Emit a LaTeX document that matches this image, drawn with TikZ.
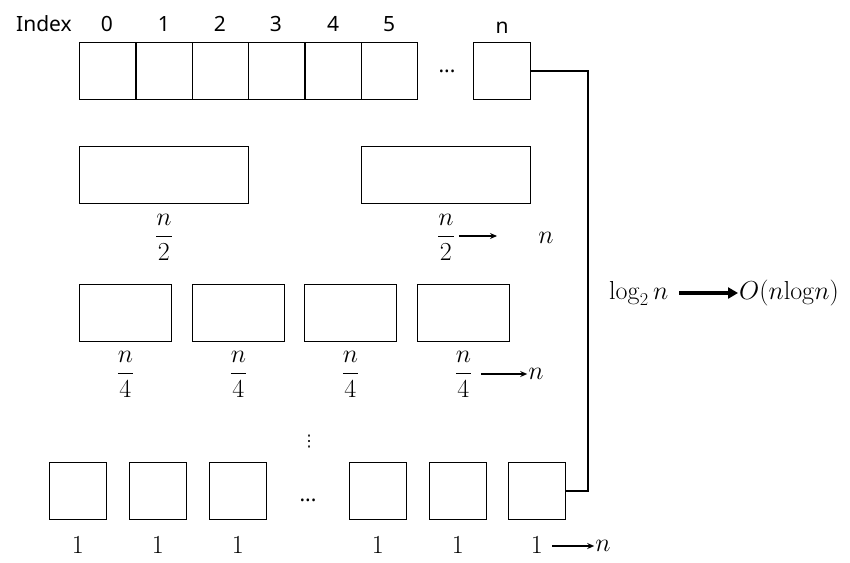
\RequirePackage{fix-cm}
\documentclass[tikz,border=0pt]{standalone}
\usepackage{amsmath}
\usepackage[no-math]{fontspec}
\setmainfont{Noto Sans}
\newfontfamily\symfont{DejaVu Sans}
\usetikzlibrary{positioning,arrows.meta}

\begin{document}
\begin{tikzpicture}[x=1pt, y=-1pt,
    every node/.style={font=\fontsize{21}{24}\selectfont},
    cell/.style={draw, line width=0.8pt, inner sep=0pt, anchor=north west, minimum height=57pt},
    mathlbl/.style={font=\fontsize{26}{30}\selectfont, inner sep=1pt},
    arr/.style={line width=1.4pt, -{Stealth[length=7pt,width=6pt]}}]
    \useasboundingbox (0,0) rectangle (850,562);

    % array with index
    \node[anchor=base] (idx) at (44,31) {Index};
    \foreach \i/\x in {0/79,1/136,2/192,3/248,4/305,5/361} {
        \node[cell, minimum width=56pt] (top\i) at (\x,42) {};
        \node[anchor=base] (idx\i) at (\x+28,31) {\i};
    }
    \node (topdots) at (447,71) {\textbf{...}};
    \node[cell, minimum width=57pt] (topn) at (473,42) {};
    \node[anchor=base] (idxn) at (502,33) {n};

    % halves
    \node[cell, minimum width=169pt] (half1) at (79,146) {};
    \node[cell, minimum width=169pt] (half2) at (361,146) {};
    \node[mathlbl, below=9pt of half1] (lh1) {$\dfrac{n}{2}$};
    \node[mathlbl, below=9pt of half2] (lh2) {$\dfrac{n}{2}$};
    \coordinate (ah2) at (497,236);
    \node[mathlbl] (nh) at (546,238) {$n$};
    \draw[arr] ([xshift=3pt]lh2.east |- ah2) -- (ah2);

    % quarters
    \foreach \i/\x in {1/79,2/192,3/304,4/417} {
        \node[cell, minimum width=92pt] (quar\i) at (\x,284) {};
        \node[mathlbl, below=8pt of quar\i] (lq\i) {$\dfrac{n}{4}$};
    }
    \node[mathlbl] (nq) at (536,374) {$n$};
    \draw[arr] ([xshift=8pt]lq4.east |- nq.west) -- (nq.west);

    \node[font=\symfont\fontsize{16}{16}\selectfont, inner sep=0pt] (vdots) at (309,442) {⋮};

    % single cells
    \foreach \i/\x in {1/49,2/129,3/209,4/349,5/429,6/508} {
        \node[cell, minimum width=57pt] (one\i) at (\x,462) {};
        \node[mathlbl, below=16pt of one\i] (lo\i) {$1$};
    }
    \node (botdots) at (308,500) {\textbf{...}};
    \node[mathlbl] (nb) at (603,546) {$n$};
    \draw[arr] ([xshift=8pt]lo6.east |- nb.west) -- (nb.west);

    % height of the recursion
    \coordinate (bend) at (588,300);
    \draw[line width=1.6pt] (topn.east) -| (bend) |- (one6.east);
    \node[mathlbl, anchor=west] (lg) at (608,293) {$\log_2 n$};
    \node[mathlbl, anchor=west] (big) at (738,293) {$O(n\mathrm{log}n)$};
    \draw[line width=3.5pt, -{Triangle[length=10pt,width=11pt]}] ([xshift=10pt]lg.east) -- (big.west);
\end{tikzpicture}
\end{document}
